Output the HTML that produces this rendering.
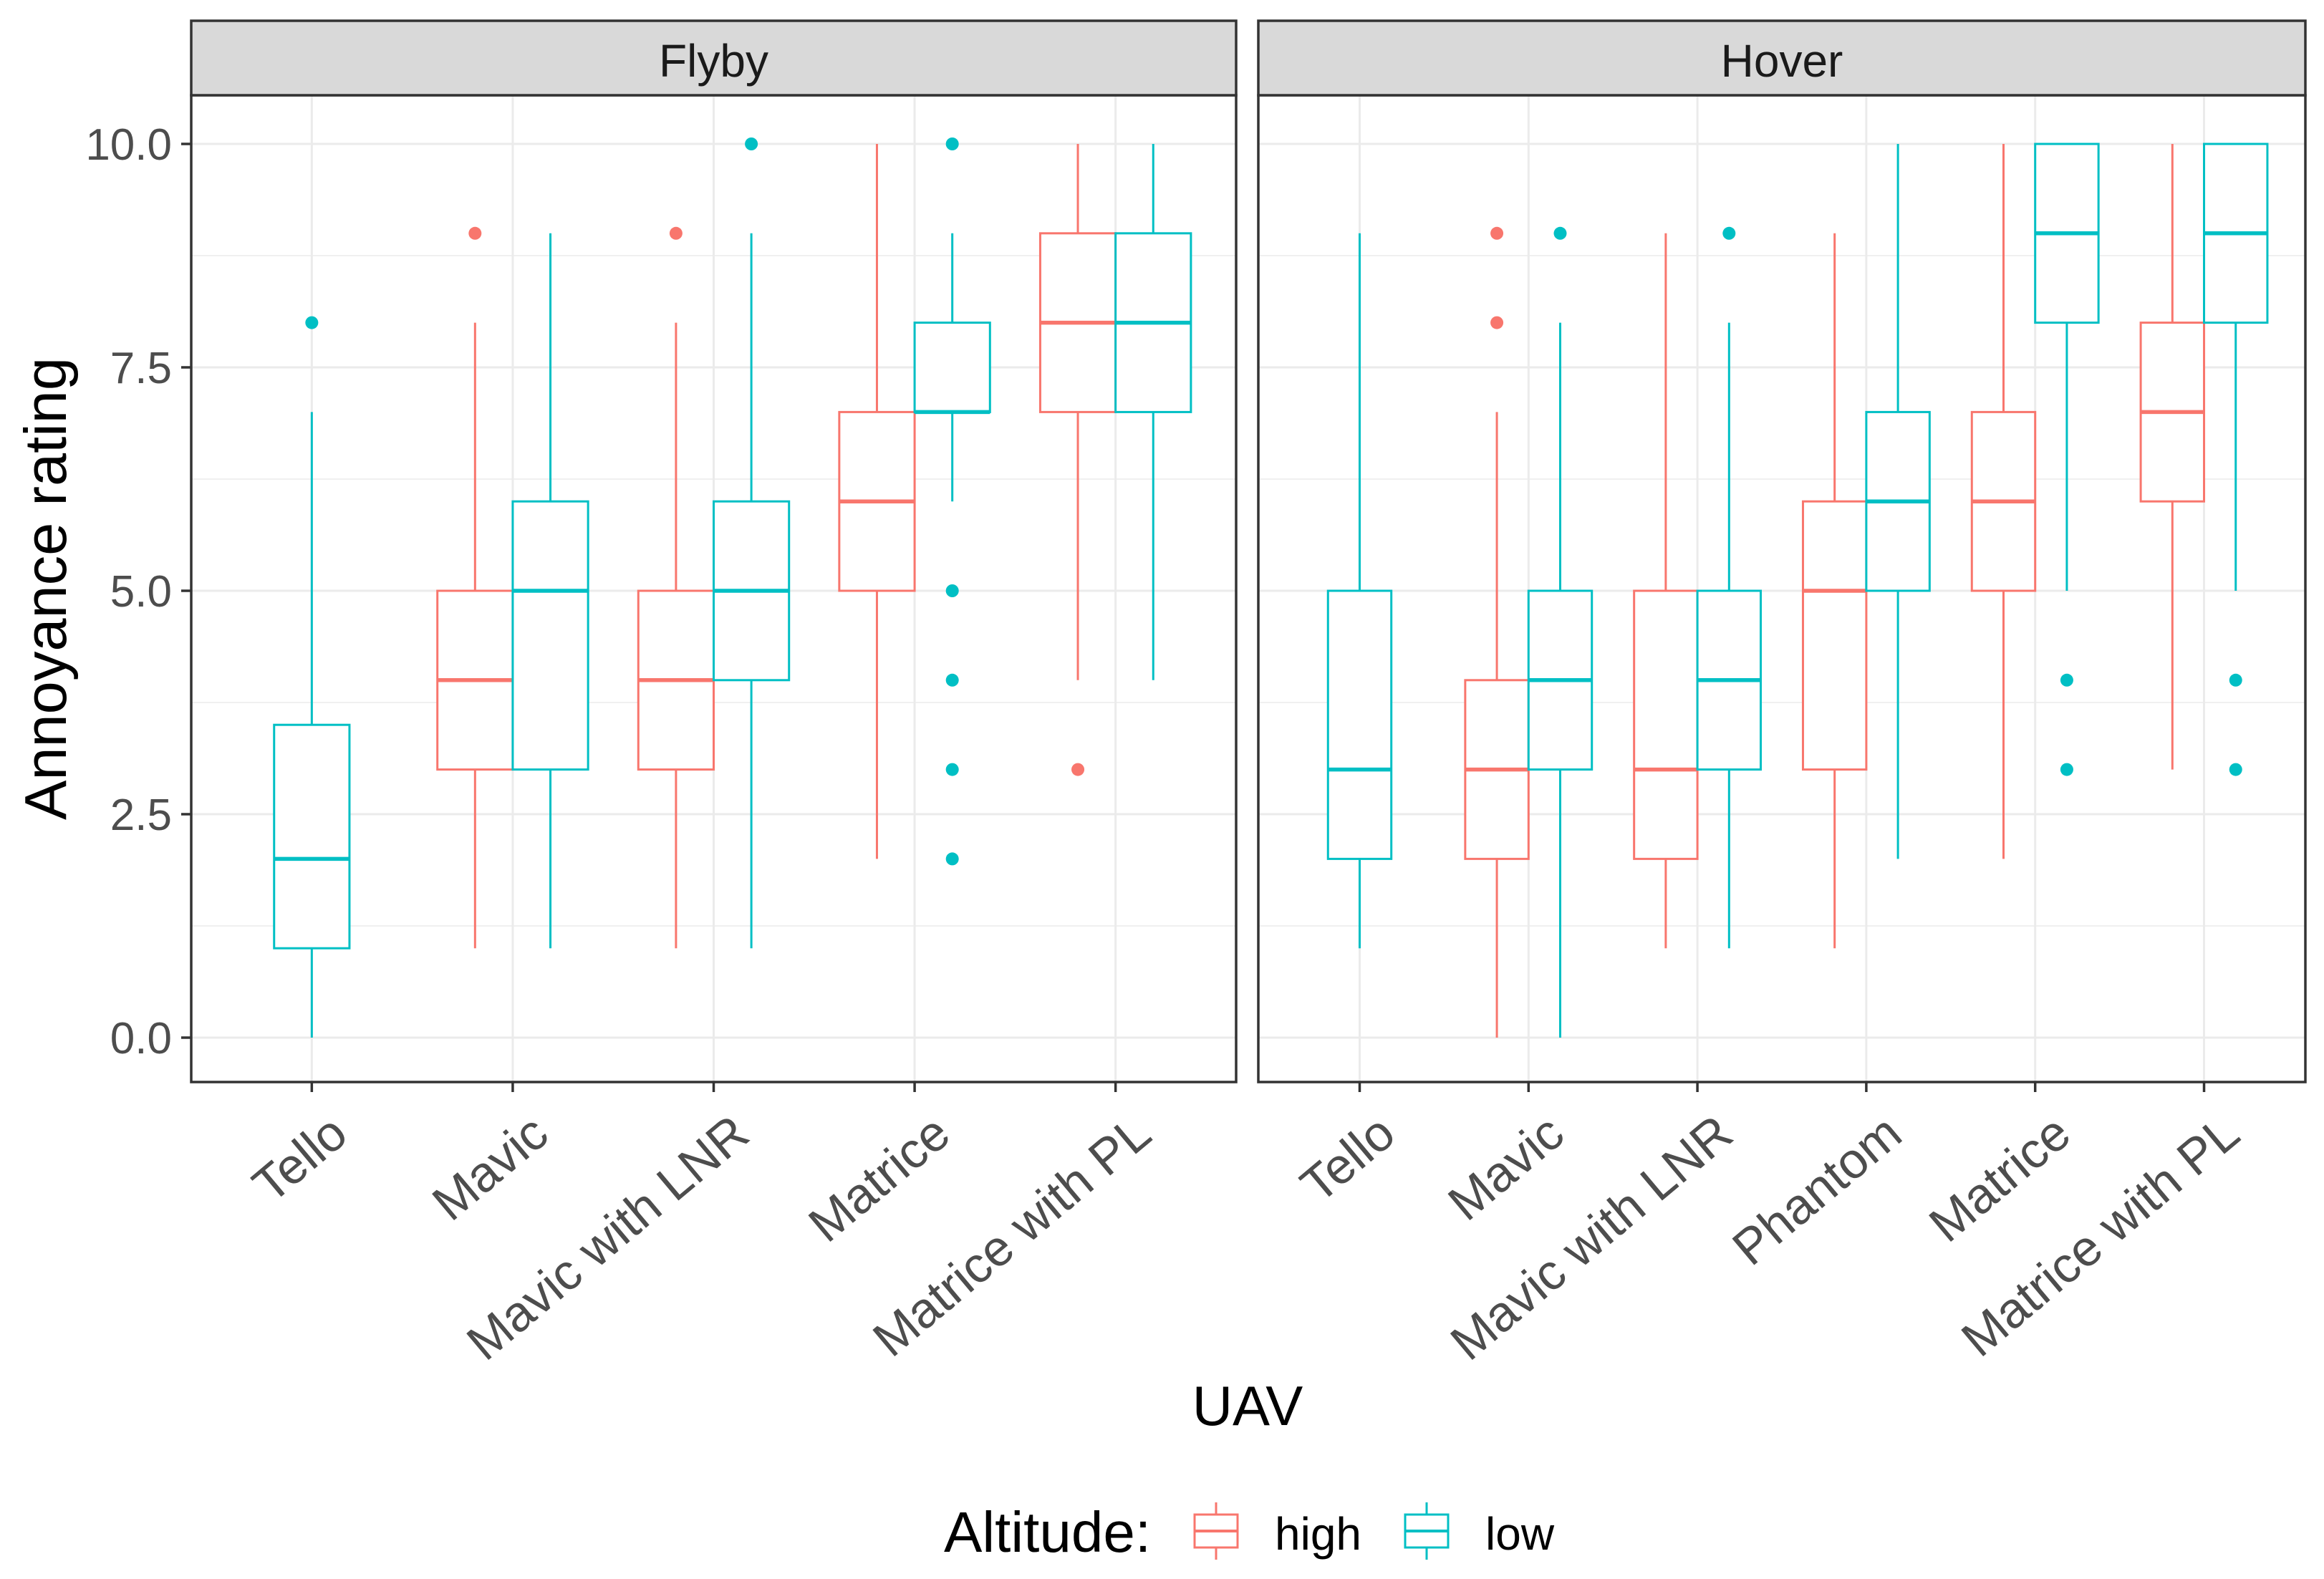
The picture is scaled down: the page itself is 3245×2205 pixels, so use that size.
<!DOCTYPE html>
<html><head><meta charset="utf-8"><style>
html,body{margin:0;padding:0;background:#fff;}
svg{display:block;font-family:"Liberation Sans",Arial,sans-serif;}
</style></head><body>
<svg id="chart" width="3245" height="2205" viewBox="0 0 3245 2205" xmlns="http://www.w3.org/2000/svg"></svg>
<script>
// ---- data ----
const flybyCats = ["Tello","Mavic","Mavic with LNR","Matrice","Matrice with PL"];
const hoverCats = ["Tello","Mavic","Mavic with LNR","Phantom","Matrice","Matrice with PL"];
const yTicks = [0,2.5,5,7.5,10];
const yTickLabels = ["0.0","2.5","5.0","7.5","10.0"];
// stats: [lowerWhisker, q1, median, q3, upperWhisker], null = missing
const flybyHigh = [null,[1,3,4,5,8],[1,3,4,5,8],[2,5,6,7,10],[4,7,8,9,10]];
const flybyLow  = [[0,1,2,3.5,7],[1,3,5,6,9],[1,4,5,6,9],[6,7,7,8,9],[4,7,8,9,10]];
const flybyHighOut = [[],[9],[9],[],[3]];
const flybyLowOut  = [[8],[],[10],[10,5,4,3,2],[]];
const hoverHigh = [null,[0,2,3,4,7],[1,2,3,5,9],[1,3,5,6,9],[2,5,6,7,10],[3,6,7,8,10]];
const hoverLow  = [[1,2,3,5,9],[0,3,4,5,8],[1,3,4,5,8],[2,5,6,7,10],[5,8,9,10,10],[5,8,9,10,10]];
const hoverHighOut = [[],[8,9],[],[],[],[]];
const hoverLowOut  = [[],[9],[9],[],[4,3],[4,3]];

const HIGH="#F8766D", LOW="#00BFC4";
const NS="http://www.w3.org/2000/svg";
const svg=document.getElementById("chart");
function mk(tag,attrs,parent){const e=document.createElementNS(NS,tag);for(const k in attrs)e.setAttribute(k,attrs[k]);(parent||svg).appendChild(e);return e;}

const plotTop=133, plotBottom=1511;
const yScale=v=>1449-(v)*124.8;

function panel(name,x0,x1,cats,hi,lo,hiOut,loOut,key){
  const g=mk("g",{});
  
  
  const n=cats.length, step=(x1-x0)/(n+0.2);
  const xScale=i=>x0+step*(0.6+i);
  for(let v=-1.25;v<=11.25;v+=2.5){const y=yScale(v); if(y>plotTop&&y<plotBottom) mk("line",{x1:x0,x2:x1,y1:y,y2:y,stroke:"#EBEBEB","stroke-width":1.5},g);}
  yTicks.forEach(v=>{const y=yScale(v);mk("line",{x1:x0,x2:x1,y1:y,y2:y,stroke:"#EBEBEB","stroke-width":3},g);});
  cats.forEach((c,i)=>{const x=xScale(i);mk("line",{x1:x,x2:x,y1:plotTop,y2:plotBottom,stroke:"#EBEBEB","stroke-width":3},g);});
  const bw=step*0.375;
  function box(st,out,cx,col,label){
    if(!st)return;
    const b=mk("g",{},g);
    
    
    mk("line",{x1:cx,x2:cx,y1:yScale(st[0]),y2:yScale(st[1]),stroke:col,"stroke-width":3},b);
    mk("line",{x1:cx,x2:cx,y1:yScale(st[3]),y2:yScale(st[4]),stroke:col,"stroke-width":3},b);
    mk("rect",{x:cx-bw/2,y:yScale(st[3]),width:bw,height:yScale(st[1])-yScale(st[3]),fill:"#fff",stroke:col,"stroke-width":3},b);
    mk("line",{x1:cx-bw/2,x2:cx+bw/2,y1:yScale(st[2]),y2:yScale(st[2]),stroke:col,"stroke-width":5.5},b);
    out.forEach(v=>{const p=mk("circle",{cx:cx,cy:yScale(v),r:9,fill:col},b);
      
      });
  }
  cats.forEach((c,i)=>{
    const x=xScale(i);
    const both=hi[i]&&lo[i];
    const slug=c.toLowerCase().replace(/ /g,'-');
    box(hi[i],hiOut[i],both?x-bw/2:x,HIGH,key+'-'+slug+'-high-box');
    box(lo[i],loOut[i],both?x+bw/2:x,LOW,key+'-'+slug+'-low-box');
  });
  mk("rect",{x:x0,y:plotTop,width:x1-x0,height:plotBottom-plotTop,fill:"none",stroke:"#333","stroke-width":3.5},g);
  const s=mk("rect",{x:x0,y:29,width:x1-x0,height:plotTop-29,fill:"#D9D9D9",stroke:"#333","stroke-width":3.5},g);
  
  
  const st=mk("text",{x:(x0+x1)/2,y:107,"text-anchor":"middle","font-size":64,fill:"#1A1A1A"},g);
  st.textContent=name;
  
  
  cats.forEach((c,i)=>{
    const x=xScale(i);
    mk("line",{x1:x,x2:x,y1:plotBottom,y2:plotBottom+14,stroke:"#333","stroke-width":3.5},g);
    const t=mk("text",{transform:`translate(${x+20},${1550}) rotate(-40)`,"text-anchor":"end","font-size":70,fill:"#4D4D4D",dy:"0.75em"},g);
    t.textContent=c;
    
    
  });
}
panel("Flyby",267,1726,flybyCats,flybyHigh,flybyLow,flybyHighOut,flybyLowOut,"flyby");
panel("Hover",1757,3219,hoverCats,hoverHigh,hoverLow,hoverHighOut,hoverLowOut,"hover");

yTicks.forEach((v,i)=>{
  const y=yScale(v);
  mk("line",{x1:253,x2:267,y1:y,y2:y,stroke:"#333","stroke-width":3.5});
  const t=mk("text",{x:240,y:y+22,"text-anchor":"end","font-size":62,fill:"#4D4D4D"});
  t.textContent=yTickLabels[i];
  
  
});
const yt=mk("text",{transform:"translate(92,822) rotate(-90)","text-anchor":"middle","font-size":83,fill:"#000"});
yt.textContent="Annoyance rating";


const xt=mk("text",{x:1742,y:1990,"text-anchor":"middle","font-size":78,fill:"#000"});
xt.textContent="UAV";



const lg=mk("g",{});


const lt=mk("text",{x:1318,y:2167,"font-size":80,fill:"#000"},lg);
lt.textContent="Altitude:";


[["high",HIGH,1662,1780],["low",LOW,1956,2074]].forEach(([lab,col,kx,tx])=>{
  const e=mk("g",{},lg);
  
  
  const cx=kx+36;
  mk("line",{x1:cx,x2:cx,y1:2098,y2:2178,stroke:col,"stroke-width":3},e);
  mk("rect",{x:kx+6,y:2115,width:60,height:46,fill:"#fff",stroke:col,"stroke-width":3},e);
  mk("line",{x1:kx+6,x2:kx+66,y1:2138,y2:2138,stroke:col,"stroke-width":4},e);
  const t=mk("text",{x:tx,y:2164,"font-size":64,fill:"#000"},e);
  t.textContent=lab;
});
</script>
</body></html>
